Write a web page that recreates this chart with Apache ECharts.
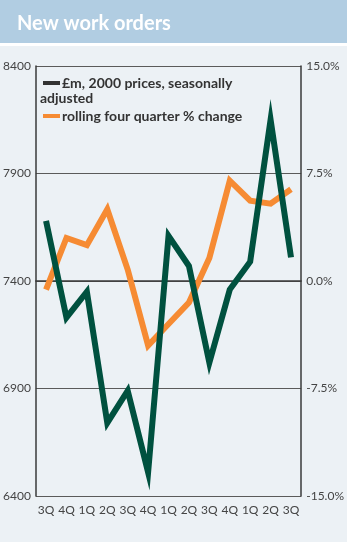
<!DOCTYPE html>
<html>
<head>
<meta charset="utf-8">
<script src="https://cdn.jsdelivr.net/npm/echarts@6/dist/echarts.min.js"></script>
<style>
  html, body { margin: 0; padding: 0; background: #ecf1f5; }
  #chart { width: 347px; height: 542px; }
</style>
</head>
<body>
<div id="chart"></div>
<script>
// Quarterly categories (3Q through 3Q, three years later)
const quarters = ['3Q', '4Q', '1Q', '2Q', '3Q', '4Q', '1Q', '2Q', '3Q', '4Q', '1Q', '2Q', '3Q'];

// New work orders, £m at 2000 prices, seasonally adjusted (left axis)
const ordersValue = [7680, 7230, 7350, 6740, 6890, 6510, 7610, 7470, 7020, 7360, 7490, 8150, 7510];

// Rolling four quarter % change (right axis)
const rollingChange = [-0.6, 3.0, 2.5, 5.0, 0.8, -4.5, -3.0, -1.5, 1.6, 7.0, 5.6, 5.4, 6.4];

// Axis ranges and ticks
const leftTicks = { min: 6400, max: 8400, step: 500 };
const rightTicks = { min: -15, max: 15, step: 7.5 };

const seriesNames = ['£m, 2000 prices, seasonally adjusted', 'rolling four quarter % change'];

const GREEN = '#00513f';
const ORANGE = '#f68b33';
const AXIS = '#3a3a3a';
const LABEL = '#444';
const FONT = 'Lato, "Noto Sans", sans-serif';

const chart = echarts.init(document.getElementById('chart'), null, { renderer: 'canvas' });

chart.setOption({
  backgroundColor: '#ecf1f5',
  animation: false,
  title: {
    text: 'New work orders',
    left: 12,
    top: 9,
    textStyle: { color: '#ffffff', fontSize: 20, fontWeight: 'bold', fontFamily: FONT }
  },
  graphic: [
    // header band
    { type: 'rect', z: -1, shape: { x: 0, y: 0, width: 347, height: 43 }, style: { fill: '#b1cde2' } },
    { type: 'rect', z: -1, shape: { x: 0, y: 43, width: 347, height: 3 }, style: { fill: '#ffffff' } },
    // key
    { type: 'rect', z: 10, shape: { x: 43, y: 81, width: 17, height: 4 }, style: { fill: '#333333' } },
    { type: 'text', z: 10, x: 62, y: 83, style: { text: '£m, 2000 prices, seasonally', fill: '#333', font: 'bold 14px ' + FONT, verticalAlign: 'middle' } },
    { type: 'text', z: 10, x: 40, y: 98, style: { text: 'adjusted', fill: '#333', font: 'bold 14px ' + FONT, verticalAlign: 'middle' } },
    { type: 'rect', z: 10, shape: { x: 43, y: 114, width: 17, height: 4 }, style: { fill: ORANGE } },
    { type: 'text', z: 10, x: 62, y: 116, style: { text: 'rolling four quarter % change', fill: '#333', font: 'bold 14px ' + FONT, verticalAlign: 'middle' } }
  ],
  grid: { left: 33, right: 38, top: 66, bottom: 46, containLabel: false },
  xAxis: {
    type: 'category',
    data: quarters,
    boundaryGap: true,
    axisLine: { lineStyle: { color: AXIS, width: 1.5 } },
    axisTick: { inside: true, length: 9, lineStyle: { color: AXIS, width: 1.2 } },
    axisLabel: { color: LABEL, fontSize: 12, margin: 8, interval: 0, fontFamily: FONT }
  },
  yAxis: [
    {
      type: 'value',
      min: leftTicks.min, max: leftTicks.max, interval: leftTicks.step,
      position: 'left',
      axisLine: { show: true, lineStyle: { color: AXIS, width: 1.5 } },
      axisTick: { show: false },
      axisLabel: { color: LABEL, fontSize: 12, margin: 5, fontFamily: FONT, formatter: v => String(v) },
      splitLine: { show: true, lineStyle: { color: '#5a5a5a', width: 1.2 } }
    },
    {
      type: 'value',
      min: rightTicks.min, max: rightTicks.max, interval: rightTicks.step,
      position: 'right',
      axisLine: { show: true, lineStyle: { color: AXIS, width: 1.5 } },
      axisTick: { show: false },
      axisLabel: { color: LABEL, fontSize: 12, margin: 5, fontFamily: FONT, formatter: v => v.toFixed(1) + '%' },
      splitLine: { show: false }
    }
  ],
  series: [
    {
      name: seriesNames[1],
      type: 'line',
      yAxisIndex: 1,
      data: rollingChange,
      symbol: 'none',
      lineStyle: { color: ORANGE, width: 6, join: 'miter', cap: 'butt' },
      z: 2
    },
    {
      name: seriesNames[0],
      type: 'line',
      yAxisIndex: 0,
      data: ordersValue,
      symbol: 'none',
      lineStyle: { color: GREEN, width: 6, join: 'miter', cap: 'butt' },
      z: 3
    }
  ]
});
</script>
</body>
</html>
